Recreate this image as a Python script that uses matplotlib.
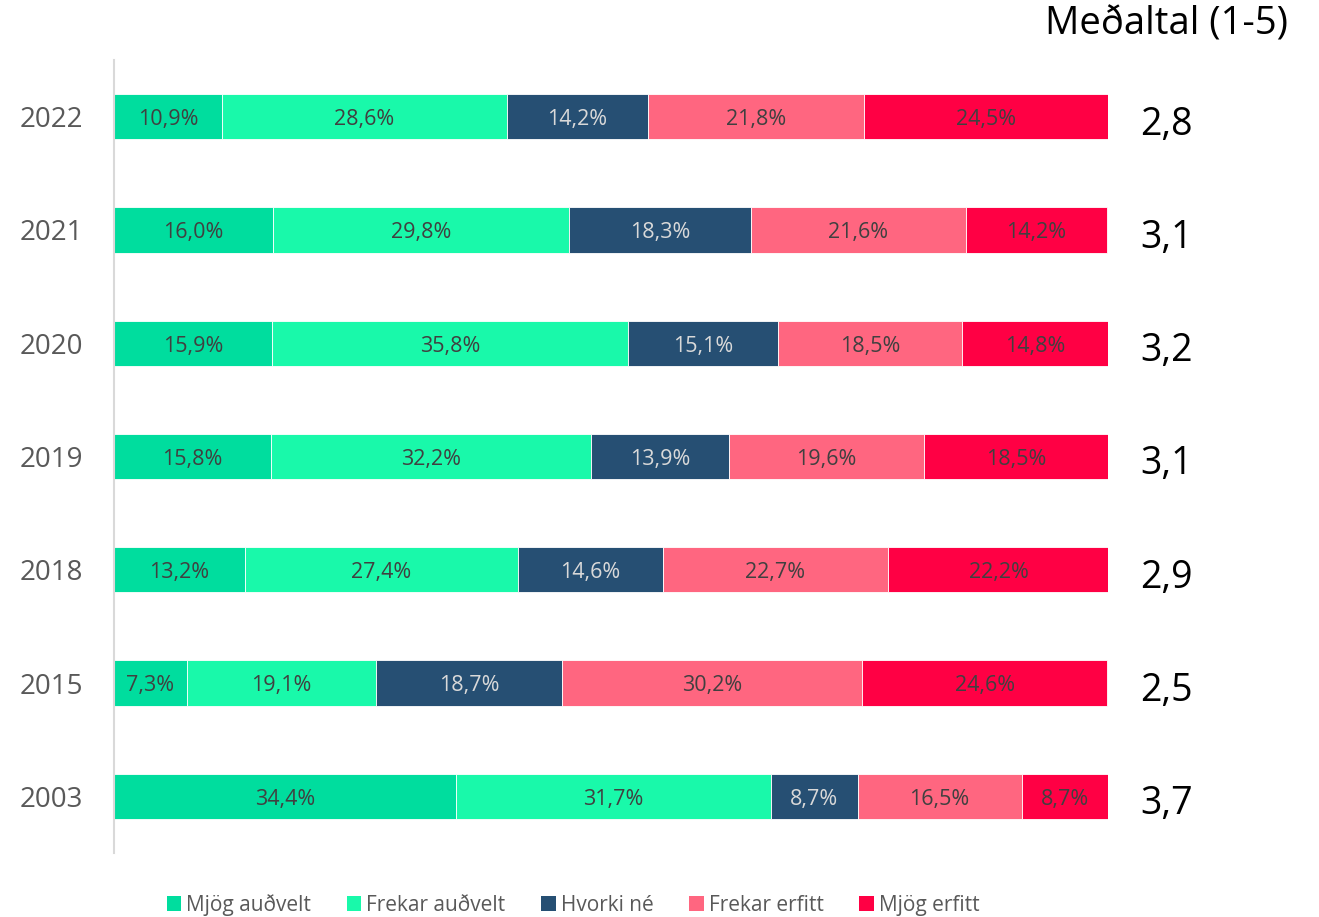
import matplotlib
matplotlib.use("Agg")
import matplotlib.pyplot as plt
import numpy as np
from matplotlib.patches import Patch

years = ["2003", "2015", "2018", "2019", "2020", "2021", "2022"]
categories = ["Mjög auðvelt", "Frekar auðvelt", "Hvorki né", "Frekar erfitt", "Mjög erfitt"]
mjog_audvelt = [34.4, 7.3, 13.2, 15.8, 15.9, 16.0, 10.9]
frekar_audvelt = [31.7, 19.1, 27.4, 32.2, 35.8, 29.8, 28.6]
hvorki_ne = [8.7, 18.7, 14.6, 13.9, 15.1, 18.3, 14.2]
frekar_erfitt = [16.5, 30.2, 22.7, 19.6, 18.5, 21.6, 21.8]
mjog_erfitt = [8.7, 24.6, 22.2, 18.5, 14.8, 14.2, 24.5]
means = ["3,7", "2,5", "2,9", "3,1", "3,2", "3,1", "2,8"]

colors = ["#00DD9E", "#19F9AA", "#264F73", "#FF6680", "#FF0044"]
label_colors = ["#404040", "#404040", "#D9D9D9", "#404040", "#404040"]

plt.rcParams['font.family'] = ['Open Sans', 'DejaVu Sans']

fig = plt.figure(figsize=(13.19, 9.17), dpi=100)
ax = fig.add_axes([114/1319, 1-853/917, (1108-114)/1319, (853-60)/917])

series = [mjog_audvelt, frekar_audvelt, hvorki_ne, frekar_erfitt, mjog_erfitt]
y = np.arange(len(years))
left = np.zeros(len(years))
for vals, c, lc in zip(series, colors, label_colors):
    vals = np.array(vals)
    ax.barh(y, vals, left=left, height=0.4, color=c, edgecolor="white", linewidth=0.6)
    for yi, (l, v) in enumerate(zip(left, vals)):
        ax.text(l + v/2, yi - 0.025, f"{v:.1f}%".replace(".", ","), ha="center", va="center",
                fontsize=15.5, color=lc)
    left += vals

ax.set_xlim(0, 100)
ax.set_ylim(-0.5, 6.5)
ax.set_yticks(y)
ax.set_yticklabels(years, fontsize=20, color="#595959")
ax.tick_params(axis="y", length=0, pad=22)
ax.set_xticks([])
for s in ["top", "right", "bottom"]:
    ax.spines[s].set_visible(False)
ax.spines["left"].set_color("#D9D9D9")
ax.spines["left"].set_linewidth(1.5)

for yi, m in enumerate(means):
    ax.text(105.9, yi - 0.07, m, ha="center", va="center", fontsize=27,
            color="black", clip_on=False)

fig.text(1288/1319, 1-24/917, "Meðaltal (1-5)", ha="right", va="center", fontsize=27.5, color="black")

handles = [Patch(facecolor=c, edgecolor="none") for c in colors]
fig.legend(handles, categories, loc="center", bbox_to_anchor=(573/1319, 1-905/917),
           ncol=5, frameon=False, fontsize=15, handlelength=0.7, handleheight=0.7,
           handletextpad=0.25, columnspacing=1.7, labelcolor="#595959")

fig.savefig("out.png", dpi=100)
